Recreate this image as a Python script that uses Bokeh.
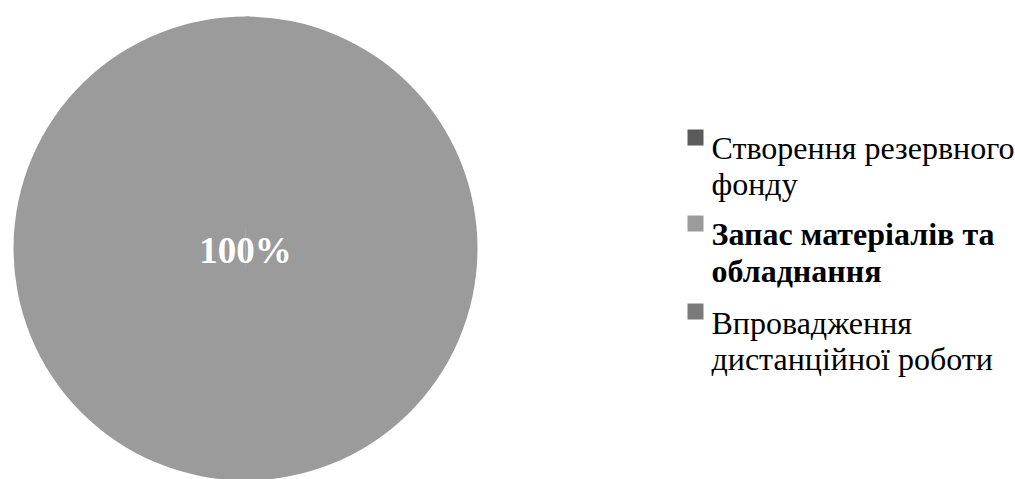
import numpy as np
from bokeh.plotting import figure
from bokeh.models import Range1d, ColumnDataSource
from bokeh.core.properties import value
from bokeh.embed import file_html
from bokeh.resources import INLINE

# ---- data ----
categories = ["Створення резервного фонду",
              "Запас матеріалів та обладнання",
              "Впровадження дистанційної роботи"]
legend_lines = [["Створення резервного", "фонду"],
                ["Запас матеріалів та", "обладнання"],
                ["Впровадження", "дистанційної роботи"]]
values = [0, 100, 0]
colors = ["#5a5a5a", "#9b9b9b", "#7a7a7a"]
legend_bold = [False, True, False]

W, H = 1015, 479
p = figure(width=W, height=H, output_backend="svg", toolbar_location=None,
           x_range=Range1d(0, W), y_range=Range1d(H, 0), min_border=0)
p.axis.visible = False
p.grid.visible = False
p.outline_line_color = None
p.background_fill_color = "white"
p.border_fill_color = "white"

# pie (each slice drawn as slightly overlapping sub-wedges of at most half a
# turn, so that a 100% slice renders without a seam)
total = float(sum(values))
fracs = np.array(values) / total
ends = np.cumsum(fracs) * 2 * np.pi
starts = ends - fracs * 2 * np.pi
cx, cy, r = 245, 248, 232
ws, we, wc = [], [], []
for i, v in enumerate(values):
    if v <= 0:
        continue
    n = int(np.ceil(fracs[i] * 2))
    edges = np.linspace(starts[i], ends[i], n + 1)
    for a, b in zip(edges[:-1], edges[1:]):
        ws.append(-np.pi / 2 + a - 0.02)
        we.append(-np.pi / 2 + b)
        wc.append(colors[i])
src = ColumnDataSource(dict(start=ws, end=we, color=wc))
p.wedge(x=cx, y=cy, radius=r, start_angle="start", end_angle="end",
        fill_color="color", line_color=None, source=src)

# data labels
for i, v in enumerate(values):
    if v <= 0:
        continue
    mid = -np.pi / 2 + (starts[i] + ends[i]) / 2
    lx = cx if fracs[i] == 1 else cx + 0.6 * r * np.cos(mid)
    ly = cy + 2 if fracs[i] == 1 else cy + 0.6 * r * np.sin(mid)
    p.text(x=[lx], y=[ly], text=[f"{v / total * 100:.0f}%"],
           text_font=value("Liberation Serif"), text_font_size="37px",
           text_font_style="bold", text_color="white",
           text_align="center", text_baseline="middle")

# legend (manual, wrapped like the original)
sq_y = [137, 223, 311]
base_y = [[147, 183], [233, 270], [322, 358]]
for k in range(len(categories)):
    p.rect(x=[695], y=[sq_y[k]], width=16, height=16,
           fill_color=colors[k], line_color=None)
    for j, line in enumerate(legend_lines[k]):
        p.text(x=[711], y=[base_y[k][j]], text=[line],
               text_font=value("Liberation Serif"), text_font_size="32px",
               text_font_style="bold" if legend_bold[k] else "normal",
               text_color="black", text_align="left",
               text_baseline="alphabetic")

open("out.html", "w").write(file_html(p, INLINE))
